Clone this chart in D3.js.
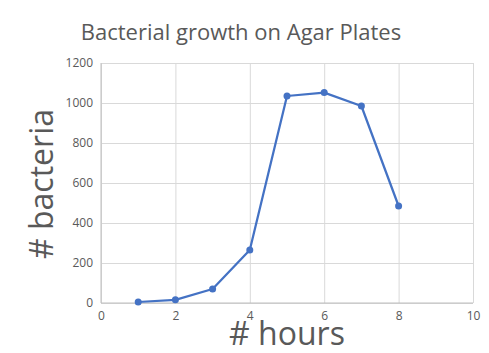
<!DOCTYPE html>
<html lang="en">
<head>
    <meta charset="UTF-8">
    <title>Bacterial growth on Agar Plates</title>
    <script src="https://d3js.org/d3.v7.min.js"></script>
</head>
<style>
    body { margin: 0; background: #fff; }
    text { font-family: "Open Sans", sans-serif; fill: #595959; }
    .axis path, .axis line { stroke-width: 0; }
    .axis text { font-size: 12px; }
    .grid line { stroke: #d9d9d9; stroke-width: 1px; }
    .grid path { stroke-width: 0; }
</style>
<body>
    <div id="chart"></div>
</body>
<script>
    // data
    const hours = [1, 2, 3, 4, 5, 6, 7, 8];
    const bacteria = [5, 16, 70, 265, 1035, 1052, 985, 485];
    const xTicks = [0, 2, 4, 6, 8, 10];
    const yTicks = [0, 200, 400, 600, 800, 1000, 1200];

    const W = 489, H = 353;
    const margin = { top: 63, right: 16, bottom: 50, left: 101 },
        width = 473 - margin.left,
        height = 303 - margin.top;

    const root = d3.select("#chart")
        .append("svg")
        .attr("width", W)
        .attr("height", H);

    const svg = root.append("g")
        .attr("transform", `translate(${margin.left}, ${margin.top})`);

    const x = d3.scaleLinear().domain([0, 10]).range([0, width]);
    const y = d3.scaleLinear().domain([0, 1200]).range([height, 0]);

    // gridlines
    svg.append("g")
        .attr("class", "grid")
        .call(d3.axisLeft(y).tickValues(yTicks).tickSize(-width).tickFormat(""));
    svg.append("g")
        .attr("class", "grid")
        .attr("transform", `translate(0, ${height})`)
        .call(d3.axisBottom(x).tickValues(xTicks).tickSize(-height).tickFormat(""));

    // axis lines (left + bottom, grey)
    svg.append("line")
        .attr("x1", 0).attr("x2", width)
        .attr("y1", height).attr("y2", height)
        .attr("stroke", "#bfbfbf");
    svg.append("line")
        .attr("x1", 0).attr("x2", 0)
        .attr("y1", 0).attr("y2", height)
        .attr("stroke", "#bfbfbf");

    // tick labels
    svg.append("g")
        .attr("class", "axis")
        .call(d3.axisLeft(y).tickValues(yTicks).tickSize(0).tickPadding(8).tickFormat(d3.format("d")));
    svg.append("g")
        .attr("class", "axis")
        .attr("transform", `translate(0, ${height})`)
        .call(d3.axisBottom(x).tickValues(xTicks).tickSize(0).tickPadding(8).tickFormat(d3.format("d")));

    // line + markers
    const pts = hours.map((h, i) => [h, bacteria[i]]);
    svg.append("path")
        .datum(pts)
        .attr("fill", "none")
        .attr("stroke", "#4472c4")
        .attr("stroke-width", 2.25)
        .attr("stroke-linejoin", "round")
        .attr("d", d3.line().x(d => x(d[0])).y(d => y(d[1])));

    svg.selectAll("circle")
        .data(pts).enter()
        .append("circle")
        .attr("cx", d => x(d[0]))
        .attr("cy", d => y(d[1]))
        .attr("r", 3.5)
        .attr("fill", "#4472c4");

    // title
    root.append("text")
        .attr("x", 241)
        .attr("y", 40)
        .attr("text-anchor", "middle")
        .style("font-size", "22px")
        .text("Bacterial growth on Agar Plates");

    // axis titles
    root.append("text")
        .attr("x", 287)
        .attr("y", 345)
        .attr("text-anchor", "middle")
        .style("font-size", "32px")
        .text("# hours");

    root.append("text")
        .attr("transform", "translate(53, 184) rotate(-90)")
        .attr("text-anchor", "middle")
        .style("font-size", "32px")
        .text("# bacteria");
</script>
</html>
